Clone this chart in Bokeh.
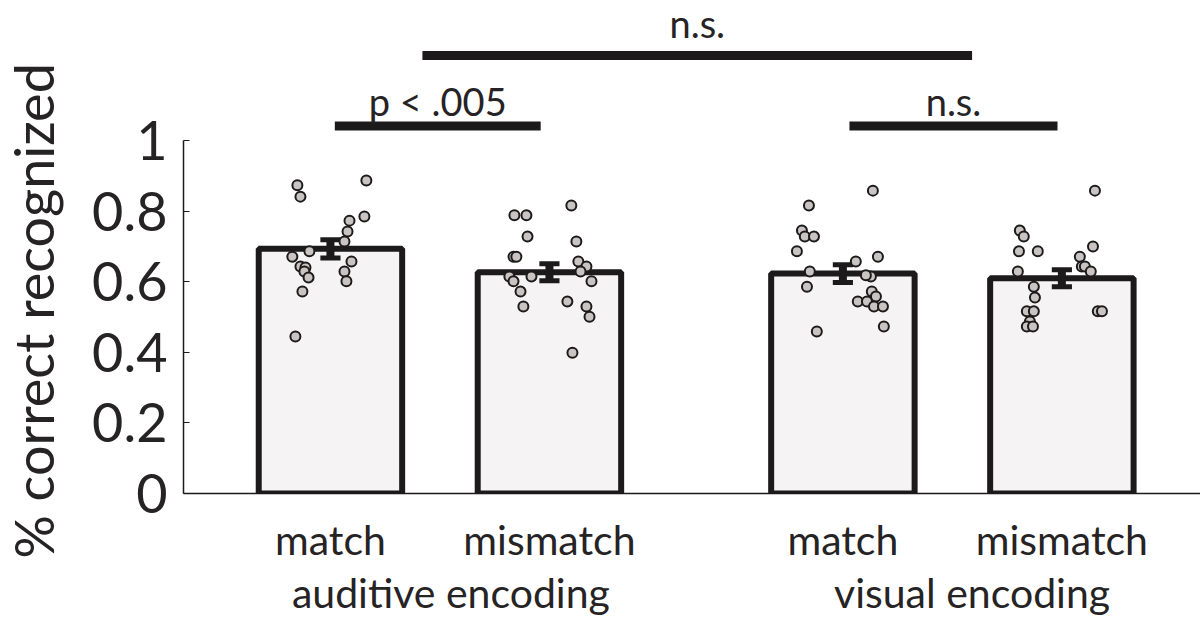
from bokeh.plotting import figure
from bokeh.layouts import row
from bokeh.models import Range1d, LinearAxis, FixedTicker, CustomJSTickFormatter, Title
from bokeh.core.properties import value
from bokeh.embed import file_html
from bokeh.resources import INLINE

# ---------------- data ----------------
conditions = ["match", "mismatch", "match", "mismatch"]
groups = ["auditive encoding", "visual encoding"]
x_pos = [1.0, 2.0, 3.34, 4.34]
group_x = [1.55, 3.93]
means = [0.693, 0.627, 0.623, 0.610]
sems = [0.026, 0.024, 0.025, 0.024]
y_title = "% correct recognized"

# individual subjects: (horizontal jitter, value)
jit1 = [-0.151, -0.137, 0.164, 0.155, 0.087, 0.078, 0.064, -0.096, -0.174, 0.096,
        -0.137, -0.114, -0.119, -0.100, 0.064, 0.073, -0.128, -0.160]
val1 = [0.873, 0.841, 0.887, 0.785, 0.773, 0.742, 0.714, 0.686, 0.671, 0.657,
        0.643, 0.640, 0.629, 0.612, 0.629, 0.601, 0.572, 0.445]
jit2 = [-0.160, -0.105, 0.100, -0.100, 0.123, -0.164, -0.151, 0.132, 0.169, 0.142,
        -0.183, -0.164, -0.082, 0.192, -0.132, -0.119, 0.082, 0.169, 0.183, 0.105]
val2 = [0.788, 0.788, 0.816, 0.728, 0.714, 0.671, 0.671, 0.657, 0.643, 0.629,
        0.615, 0.601, 0.615, 0.601, 0.572, 0.530, 0.544, 0.530, 0.501, 0.399]
jit3 = [0.137, -0.155, -0.187, -0.174, -0.132, -0.210, 0.160, 0.059, -0.151, 0.128,
        0.105, -0.164, 0.132, 0.151, 0.068, 0.110, 0.142, 0.183, 0.187, -0.119]
val3 = [0.858, 0.816, 0.745, 0.728, 0.728, 0.686, 0.671, 0.657, 0.629, 0.615,
        0.618, 0.586, 0.572, 0.558, 0.544, 0.544, 0.530, 0.530, 0.473, 0.459]
jit4 = [0.151, -0.192, -0.174, -0.196, -0.110, 0.142, 0.082, 0.091, 0.105, 0.132,
        -0.201, -0.128, -0.123, -0.160, -0.128, -0.146, -0.160, -0.132, 0.164, 0.183]
val4 = [0.858, 0.745, 0.728, 0.686, 0.686, 0.700, 0.671, 0.643, 0.643, 0.629,
        0.629, 0.586, 0.555, 0.516, 0.516, 0.487, 0.473, 0.473, 0.516, 0.516]

y_ticks = [0, 0.2, 0.4, 0.6, 0.8, 1.0]

# significance annotations
sig_x0 = [1.02, 3.37, 1.42]
sig_x1 = [1.96, 4.32, 3.93]
sig_y = [1.041, 1.041, 1.241]
sig_text = ["p < .005", "n.s.", "n.s."]
sig_text_x = [1.49, 3.845, 2.675]
sig_text_y = [1.112, 1.112, 1.333]

# ---------------- styling ----------------
INK = "#1c1a1b"
TXT = "#262324"
FONT = "Lato"
W_TITLE = 80


def bare(fig):
    fig.outline_line_color = None
    fig.background_fill_color = "#ffffff"
    fig.border_fill_color = "#ffffff"
    fig.xgrid.visible = False
    fig.ygrid.visible = False


# ---------------- main chart ----------------
p = figure(width=1200 - W_TITLE, height=620,
           x_range=Range1d(0.329, 4.973), y_range=Range1d(0, 1.3966),
           output_backend="svg", toolbar_location=None,
           x_axis_location=None, y_axis_location=None,
           min_border_left=183 - W_TITLE, min_border_right=0, min_border_top=0,
           min_border_bottom=127)
bare(p)

# ---------------- y-title strip (frames are aligned with the main chart) ----------------
t = figure(width=W_TITLE, height=620, x_range=Range1d(0, 1), y_range=p.y_range,
           output_backend="svg", toolbar_location=None,
           x_axis_location=None, y_axis_location=None,
           min_border_left=0, min_border_right=0, min_border_top=0, min_border_bottom=127)
bare(t)
t.add_layout(Title(text=y_title, align="left", offset=-65, vertical_align="top", standoff=0,
                   text_font=FONT, text_font_size="54px", text_font_style="normal",
                   text_color=TXT), "left")

yax = LinearAxis(bounds=(0, 1), ticker=FixedTicker(ticks=y_ticks),
                 formatter=CustomJSTickFormatter(code="return tick.toFixed(1).replace(/\\.0$/, '')"))
yax.major_tick_in = 6
yax.major_tick_out = 0
yax.minor_tick_line_color = None
yax.axis_line_width = 1.5
yax.axis_line_color = INK
yax.major_tick_line_color = INK
yax.major_label_text_font = FONT
yax.major_label_text_font_size = "54px"
yax.major_label_text_color = TXT
yax.major_label_standoff = 16
p.add_layout(yax, "left")

xax = LinearAxis(ticker=FixedTicker(ticks=x_pos),
                 formatter=CustomJSTickFormatter(args=dict(names=conditions), code="return names[index]"))
xax.major_tick_in = 0
xax.major_tick_out = 0
xax.minor_tick_line_color = None
xax.axis_line_width = 1.5
xax.axis_line_color = INK
xax.major_label_text_font = FONT
xax.major_label_text_font_size = "41px"
xax.major_label_text_color = TXT
xax.major_label_standoff = 21
p.add_layout(xax, "below")

gax = LinearAxis(ticker=FixedTicker(ticks=group_x),
                 formatter=CustomJSTickFormatter(args=dict(names=groups), code="return names[index]"))
gax.major_tick_in = 0
gax.major_tick_out = 0
gax.minor_tick_line_color = None
gax.axis_line_color = None
gax.major_label_text_font = FONT
gax.major_label_text_font_size = "41px"
gax.major_label_text_color = TXT
gax.major_label_standoff = 1
p.add_layout(gax, "below")

# bars
p.vbar(x=x_pos, top=means, bottom=0, width=0.655,
       fill_color="#f6f3f4", line_color=INK, line_width=6)

# error bars
lo = [m - s for m, s in zip(means, sems)]
hi = [m + s for m, s in zip(means, sems)]
cap = 0.046
p.segment(x0=x_pos, y0=lo, x1=x_pos, y1=hi, line_color=INK, line_width=8)
p.segment(x0=[x - cap for x in x_pos], y0=hi, x1=[x + cap for x in x_pos], y1=hi,
          line_color=INK, line_width=5)
p.segment(x0=[x - cap for x in x_pos], y0=lo, x1=[x + cap for x in x_pos], y1=lo,
          line_color=INK, line_width=5)

# subject dots
for xc, jit, vals in zip(x_pos, [jit1, jit2, jit3, jit4], [val1, val2, val3, val4]):
    p.scatter(x=[xc + j for j in jit], y=vals, size=10,
              fill_color="#c9c4c4", line_color=INK, line_width=2)

# significance bars
p.segment(x0=sig_x0, y0=sig_y, x1=sig_x1, y1=sig_y, line_color=INK, line_width=9)
p.text(x=sig_text_x, y=sig_text_y, text=sig_text, text_align="center",
       text_baseline="middle", text_font=value(FONT), text_font_size="38px",
       text_color=TXT)

layout = row(t, p, spacing=0)
open("out.html", "w").write(file_html(layout, INLINE))
